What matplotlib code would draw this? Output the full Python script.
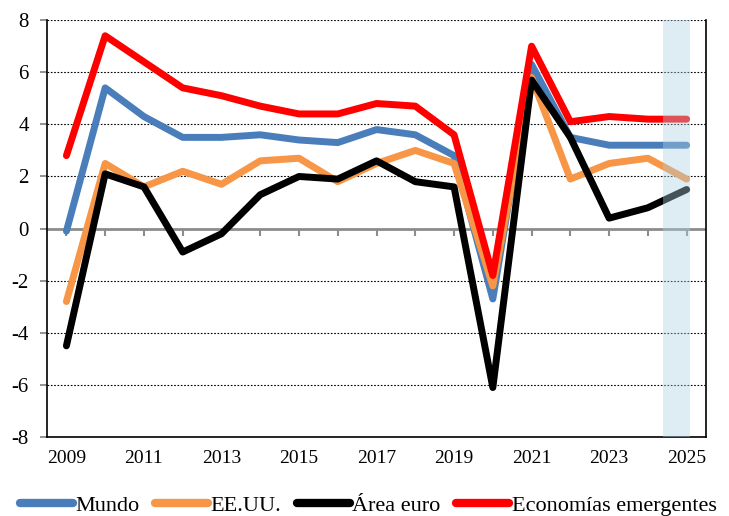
import matplotlib.pyplot as plt
import numpy as np

years = np.arange(2009, 2026)
mundo = [-0.1, 5.4, 4.3, 3.5, 3.5, 3.6, 3.4, 3.3, 3.8, 3.6, 2.8, -2.7, 6.3, 3.5, 3.2, 3.2, 3.2]
eeuu = [-2.8, 2.5, 1.6, 2.2, 1.7, 2.6, 2.7, 1.8, 2.5, 3.0, 2.5, -2.2, 5.8, 1.9, 2.5, 2.7, 1.9]
area_euro = [-4.5, 2.1, 1.6, -0.9, -0.2, 1.3, 2.0, 1.9, 2.6, 1.8, 1.6, -6.1, 5.7, 3.5, 0.4, 0.8, 1.5]
emergentes = [2.8, 7.4, 6.4, 5.4, 5.1, 4.7, 4.4, 4.4, 4.8, 4.7, 3.6, -1.8, 7.0, 4.1, 4.3, 4.2, 4.2]

series = [("Mundo", mundo, "#4a7ebb"),
          ("EE.UU.", eeuu, "#f79646"),
          ("Área euro", area_euro, "#000000"),
          ("Economías emergentes", emergentes, "#ff0000")]

plt.rcParams['font.family'] = ['Liberation Serif', 'DejaVu Serif']
plt.rcParams['axes.unicode_minus'] = False

fig = plt.figure(figsize=(7.29, 5.16), dpi=100)
ax = fig.add_axes([0.0645, 0.153, 0.904, 0.808])

for nombre, vals, col in series:
    ax.plot(years, vals, color=col, lw=5, solid_capstyle="round",
            solid_joinstyle="round", label=nombre, zorder=3)

# zona de prevision
ax.axvspan(2024.38, 2025.08, color="#acd2e1", alpha=0.4, lw=0, zorder=4)

ax.set_xlim(2008.5, 2025.5)
ax.set_ylim(-8, 8)
ax.set_yticks(np.arange(-8, 9, 2))
ax.set_xticks(np.arange(2009, 2026, 2))

ax.grid(axis="y", color="black", linestyle=(0, (1.5, 1.5)), lw=0.8, zorder=1)
ax.spines['top'].set_visible(False)
for s in ['left', 'right', 'bottom']:
    ax.spines[s].set_linewidth(1.2)

ax.tick_params(axis="x", length=0, pad=9, labelsize=14)
ax.tick_params(axis="y", length=5, color="#808080", width=1.2, pad=8, labelsize=15)

# eje en cero con marcas anuales
ax.axhline(0, color="#8c8c8c", lw=2, zorder=2)
sec = ax.secondary_xaxis(0.5)
sec.set_xticks(years)
sec.tick_params(axis="x", direction="in", length=5, width=1.5,
                color="#8c8c8c", labelbottom=False, labeltop=False)
for s in sec.spines.values():
    s.set_visible(False)

leg = fig.legend(loc="center", bbox_to_anchor=(0.505, 0.02), ncol=4, frameon=False,
                 fontsize=16, handlelength=2.4, handletextpad=0.1, columnspacing=0.7,
                 borderaxespad=0)
for h in leg.get_lines():
    h.set_linewidth(6)

fig.savefig("out.png", dpi=100)
